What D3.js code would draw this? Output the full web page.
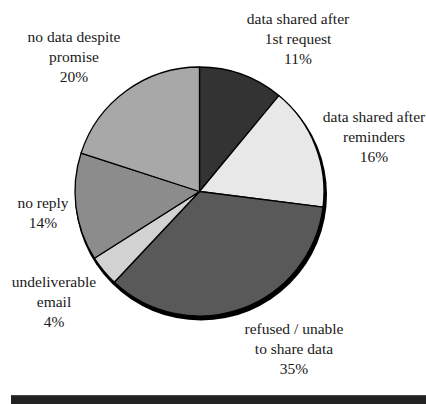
<!DOCTYPE html>
<html>
<head>
<meta charset="utf-8">
<script src="https://cdn.jsdelivr.net/npm/d3@7"></script>
<style>
  body { margin: 0; background: #fff; }
  svg { display: block; }
</style>
</head>
<body>
<script>
// slices, clockwise from 12 o'clock
var categories = [
    "data shared after 1st request",
    "data shared after reminders",
    "refused / unable to share data",
    "undeliverable email",
    "no reply",
    "no data despite promise"
];
var percents = [11, 16, 35, 4, 14, 20];
var labelLines = [
    ["data shared after", "1st request", "11%"],
    ["data shared after", "reminders", "16%"],
    ["refused / unable", "to share data", "35%"],
    ["undeliverable", "email", "4%"],
    ["no reply", "14%"],
    ["no data despite", "promise", "20%"]
];
var fills = ["#333333", "#e8e8e8", "#595959", "#d2d2d2", "#8c8c8c", "#a8a8a8"];

// label anchor (center x, first baseline y)
var labelPos = [[298, 24], [374, 122], [294, 334], [54, 287], [43, 208], [74, 42]];

var w = 426, h = 404;
var cx = 199.5, cy = 191.5, r = 124.5;

var svg = d3.select("body").append("svg")
    .attr("width", w)
    .attr("height", h);

var pie = d3.pie().sort(null).value(function (d) { return d; });
var arc = d3.arc().innerRadius(0).outerRadius(r);

var g = svg.append("g").attr("transform", "translate(" + cx + "," + cy + ")");

// drop shadow behind the pie (heavier toward bottom right)
g.append("circle")
    .attr("cx", 1.5).attr("cy", 3)
    .attr("r", r + 1.5)
    .attr("fill", "#000");

g.selectAll("path.slice")
    .data(pie(percents))
    .enter()
    .append("path")
    .attr("class", "slice")
    .attr("d", arc)
    .attr("fill", function (d, i) { return fills[i]; })
    .attr("stroke", "#000")
    .attr("stroke-width", 1.3)
    .attr("stroke-linejoin", "round");

// labels
var lab = svg.selectAll("text.lab")
    .data(labelLines)
    .enter()
    .append("text")
    .attr("class", "lab")
    .attr("text-anchor", "middle")
    .style("font-family", "'Liberation Serif'")
    .style("font-size", "15.5px")
    .attr("fill", "#1a1a1a")
    .attr("transform", function (d, i) { return "translate(" + labelPos[i][0] + "," + labelPos[i][1] + ")"; });

lab.selectAll("tspan")
    .data(function (d) { return d; })
    .enter()
    .append("tspan")
    .attr("x", 0)
    .attr("y", function (d, j) { return j * 20; })
    .text(function (d) { return d; });

// dark band at the bottom
svg.append("rect")
    .attr("x", 11).attr("y", 395)
    .attr("width", w - 11).attr("height", h - 395)
    .attr("fill", "#222");
svg.append("line")
    .attr("x1", 11).attr("x2", w)
    .attr("y1", 395.5).attr("y2", 395.5)
    .attr("stroke", "#444");
</script>
</body>
</html>
